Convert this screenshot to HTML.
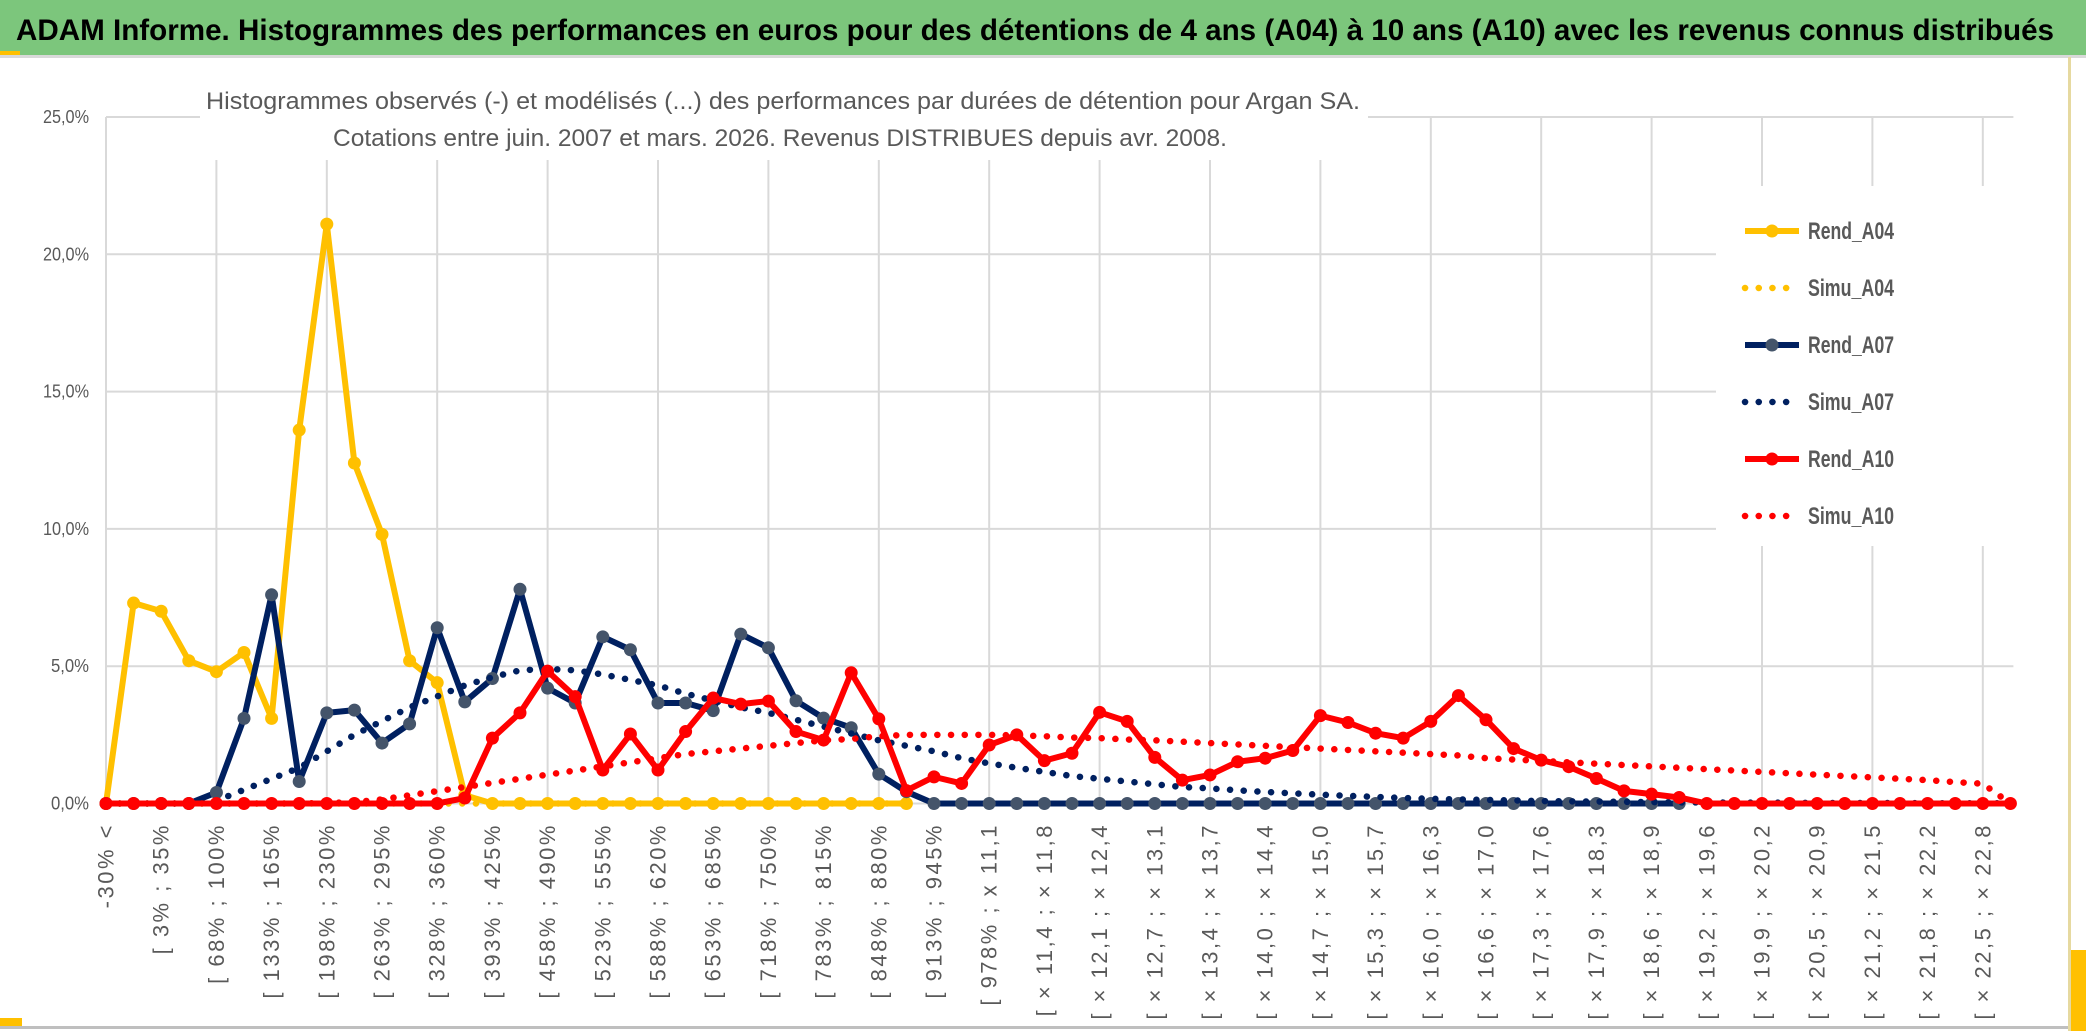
<!DOCTYPE html>
<html><head><meta charset="utf-8"><style>
html,body{margin:0;padding:0;background:#fff;}
svg{display:block;font-family:"Liberation Sans",sans-serif;}
</style></head><body>
<svg id="chart" width="2086" height="1031" viewBox="0 0 2086 1031" xmlns="http://www.w3.org/2000/svg">
<rect x="0" y="0" width="2086" height="1031" fill="#ffffff"/>
<rect x="0" y="0" width="2086" height="55" fill="#7cc67c"/>
<rect x="0" y="55" width="2086" height="3" fill="#d9d9d9"/>
<rect x="0" y="51" width="20" height="4" fill="#ffc000"/>
<text x="16" y="40" font-size="30" font-weight="bold" fill="#000" textLength="2038" lengthAdjust="spacingAndGlyphs">ADAM Informe. Histogrammes des performances en euros pour des détentions de 4 ans (A04) à 10 ans (A10) avec les revenus connus distribués</text>
<g id="grid"></g>
<g id="yaxis"></g>
<rect x="200" y="75" width="1168" height="85" fill="#fff"/>
<text x="206" y="109" font-size="24" fill="#595959" textLength="1154" lengthAdjust="spacingAndGlyphs">Histogrammes observés (-) et modélisés (...) des performances par durées de détention pour Argan SA.</text>
<text x="333" y="146" font-size="24" fill="#595959" textLength="894" lengthAdjust="spacingAndGlyphs">Cotations entre juin. 2007 et mars. 2026. Revenus DISTRIBUES depuis avr. 2008.</text>
<g id="series"></g>
<g id="xaxis"></g>
<g id="legend"></g>
<rect x="2068" y="57" width="3" height="974" fill="#e6d9a0"/>
<rect x="2071" y="950" width="15" height="81" fill="#ffc000"/>
<rect x="0" y="1026" width="2068" height="3" fill="#bfbfbf"/>
<rect x="0" y="1018" width="22" height="8" fill="#ffc000"/>
</svg>
<script>
const xLabels = ["-30% <","[ 3% ; 35%","[ 68% ; 100%","[ 133% ; 165%","[ 198% ; 230%","[ 263% ; 295%","[ 328% ; 360%","[ 393% ; 425%","[ 458% ; 490%","[ 523% ; 555%","[ 588% ; 620%","[ 653% ; 685%","[ 718% ; 750%","[ 783% ; 815%","[ 848% ; 880%","[ 913% ; 945%","[ 978% ; x 11,1","[ × 11,4 ; × 11,8","[ × 12,1 ; × 12,4","[ × 12,7 ; × 13,1","[ × 13,4 ; × 13,7","[ × 14,0 ; × 14,4","[ × 14,7 ; × 15,0","[ × 15,3 ; × 15,7","[ × 16,0 ; × 16,3","[ × 16,6 ; × 17,0","[ × 17,3 ; × 17,6","[ × 17,9 ; × 18,3","[ × 18,6 ; × 18,9","[ × 19,2 ; × 19,6","[ × 19,9 ; × 20,2","[ × 20,5 ; × 20,9","[ × 21,2 ; × 21,5","[ × 21,8 ; × 22,2","[ × 22,5 ; × 22,8"];
const yTicks = [0,5,10,15,20,25];
const yTickLabels = ["0,0%","5,0%","10,0%","15,0%","20,0%","25,0%"];
const rendA04 = [0,7.3,7.0,5.2,4.8,5.5,3.1,13.6,21.1,12.4,9.8,5.2,4.4,0.3,0,0,0,0,0,0,0,0,0,0,0,0,0,0,0,0];
const simuA04 = [0,0,0,0,0,0,0,0,0,0,0,0,0,0,0,0,0,0,0,0,0,0,0,0,0,0,0,0,0,0];
const rendA07 = [0,0,0,0,0.4,3.1,7.6,0.8,3.3,3.4,2.2,2.9,6.4,3.7,4.55,7.8,4.2,3.66,6.07,5.6,3.66,3.66,3.38,6.17,5.67,3.74,3.11,2.76,1.07,0.43,0,0,0,0,0,0,0,0,0,0,0,0,0,0,0,0,0,0,0,0,0,0,0,0,0,0,0,0];
const simuA07 = [0,0,0,0,0.1,0.5,0.9,1.3,1.9,2.5,3.0,3.5,3.9,4.3,4.6,4.85,4.9,4.85,4.7,4.5,4.3,4.0,3.75,3.5,3.3,3.05,2.8,2.55,2.3,2.1,1.9,1.65,1.46,1.3,1.15,1.0,0.9,0.8,0.7,0.6,0.55,0.48,0.42,0.37,0.32,0.28,0.24,0.2,0.17,0.15,0.13,0.11,0.09,0.08,0.07,0.06,0.05,0.04,0.04,0.03,0.03,0.03,0.02,0.02,0.02,0.02,0.01,0.01,0.01,0.01];
const rendA10 = [0,0,0,0,0,0,0,0,0,0,0,0,0,0.2,2.38,3.3,4.82,3.89,1.22,2.53,1.22,2.62,3.84,3.62,3.73,2.62,2.31,4.76,3.08,0.47,0.97,0.73,2.13,2.5,1.56,1.83,3.32,2.99,1.68,0.85,1.04,1.52,1.65,1.93,3.2,2.95,2.56,2.38,2.99,3.93,3.05,2.0,1.58,1.34,0.91,0.46,0.34,0.22,0,0,0,0,0,0,0,0,0,0,0,0];
const simuA10 = [0,0,0,0,0,0,0,0,0.02,0.05,0.15,0.3,0.45,0.6,0.75,0.9,1.05,1.2,1.35,1.5,1.65,1.8,1.9,2.0,2.1,2.2,2.3,2.35,2.45,2.5,2.5,2.5,2.5,2.48,2.45,2.4,2.38,2.33,2.3,2.25,2.2,2.15,2.1,2.05,2.0,1.95,1.9,1.85,1.8,1.75,1.65,1.6,1.55,1.5,1.45,1.4,1.35,1.3,1.25,1.2,1.15,1.1,1.05,1.0,0.95,0.9,0.85,0.78,0.72,0];
const legendNames = ["Rend_A04","Simu_A04","Rend_A07","Simu_A07","Rend_A10","Simu_A10"];

const NS="http://www.w3.org/2000/svg";
const X0=106, DX=27.6, Y0=803.5, PPU=27.46, NCAT=70;
function xs(i){return X0+i*DX;}
function ys(v){return Y0-v*PPU;}
function mk(tag,parent){const e=document.createElementNS(NS,tag);parent.appendChild(e);return e;}

const grid=document.getElementById('grid');
yTicks.forEach((t,k)=>{
  const l=mk('line',grid);
  
  
  l.setAttribute('x1',X0);l.setAttribute('x2',xs(NCAT-1)+3);
  l.setAttribute('y1',ys(t));l.setAttribute('y2',ys(t));
  l.setAttribute('stroke','#d9d9d9');l.setAttribute('stroke-width','2');
});
for(let i=0;i<NCAT;i+=4){
  const l=mk('line',grid);
  
  
  l.setAttribute('x1',xs(i));l.setAttribute('x2',xs(i));
  l.setAttribute('y1',ys(25));l.setAttribute('y2',Y0);
  l.setAttribute('stroke','#d9d9d9');l.setAttribute('stroke-width','2');
}
const ya=document.getElementById('yaxis');
yTicks.forEach((t,k)=>{
  const tx=mk('text',ya);
  
  
  tx.setAttribute('x',89);tx.setAttribute('y',ys(t)+6);
  tx.setAttribute('text-anchor','end');tx.setAttribute('font-size','18');
  tx.setAttribute('fill','#595959');
  tx.setAttribute('textLength', yTickLabels[k].length>4?46:38);
  tx.setAttribute('lengthAdjust','spacingAndGlyphs');
  tx.textContent=yTickLabels[k];
});
const xa=document.getElementById('xaxis');
xLabels.forEach((lab,k)=>{
  const x=xs(k*2), y=823;
  const tx=mk('text',xa);
  
  
  tx.setAttribute('x',x);tx.setAttribute('y',y);
  tx.setAttribute('transform','rotate(-90 '+x+' '+y+')');
  tx.setAttribute('text-anchor','end');tx.setAttribute('dominant-baseline','central');
  tx.setAttribute('font-size','22');tx.setAttribute('fill','#595959');
  tx.setAttribute('letter-spacing','2.5');
  tx.textContent=lab;
});

const series=document.getElementById('series');
function pts(arr){return arr.map((v,i)=>xs(i)+','+ys(v)).join(' ');}
function solid(arr,color,mcol,name){
  const g=mk('g',series);
  
  
  const p=mk('polyline',g);
  
  
  p.setAttribute('points',pts(arr));p.setAttribute('fill','none');
  p.setAttribute('stroke',color);p.setAttribute('stroke-width','6');p.setAttribute('stroke-linejoin','round');
  arr.forEach((v,i)=>{
    const c=mk('circle',g);
    
    
    c.setAttribute('cx',xs(i));c.setAttribute('cy',ys(v));c.setAttribute('r','6.5');c.setAttribute('fill',mcol);
  });
}
function dotted(arr,color,name){
  const p=mk('polyline',series);
  
  
  p.setAttribute('points',pts(arr));p.setAttribute('fill','none');
  p.setAttribute('stroke',color);p.setAttribute('stroke-width','6.5');
  p.setAttribute('stroke-linecap','round');p.setAttribute('stroke-dasharray','0.1 13.6');
}
solid(rendA04,'#ffc000','#ffc000','rend-a04');
dotted(simuA04,'#ffc000','simu-a04');
solid(rendA07,'#002060','#44546a','rend-a07');
dotted(simuA07,'#002060','simu-a07');
solid(rendA10,'#ff0000','#ff0000','rend-a10');
dotted(simuA10,'#ff0000','simu-a10');

const lg=document.getElementById('legend');
const bg=mk('rect',lg);


bg.setAttribute('x',1716);bg.setAttribute('y',186);bg.setAttribute('width',320);bg.setAttribute('height',360);bg.setAttribute('fill','#fff');
const lcol=['#ffc000','#ffc000','#002060','#002060','#ff0000','#ff0000'];
const lmk=['#ffc000',null,'#44546a',null,'#ff0000',null];
legendNames.forEach((n,k)=>{
  const y=231+k*57;
  const g=mk('g',lg);
  
  
  const l=mk('line',g);
  
  
  l.setAttribute('x1',1745);l.setAttribute('x2',1799);l.setAttribute('y1',y);l.setAttribute('y2',y);
  l.setAttribute('stroke',lcol[k]);l.setAttribute('stroke-width',k%2?6.5:6);
  if(k%2){l.setAttribute('stroke-linecap','round');l.setAttribute('stroke-dasharray','0.1 13.6');}
  else{
    const c=mk('circle',g);
    
    
    c.setAttribute('cx',1772);c.setAttribute('cy',y);c.setAttribute('r','6.5');c.setAttribute('fill',lmk[k]);
  }
  const t=mk('text',g);
  
  
  t.setAttribute('x',1808);t.setAttribute('y',y+8);t.setAttribute('font-size','24');
  t.setAttribute('font-weight','bold');t.setAttribute('fill','#595959');
  t.setAttribute('textLength','86');t.setAttribute('lengthAdjust','spacingAndGlyphs');
  t.textContent=n;
});
</script>
</body></html>
